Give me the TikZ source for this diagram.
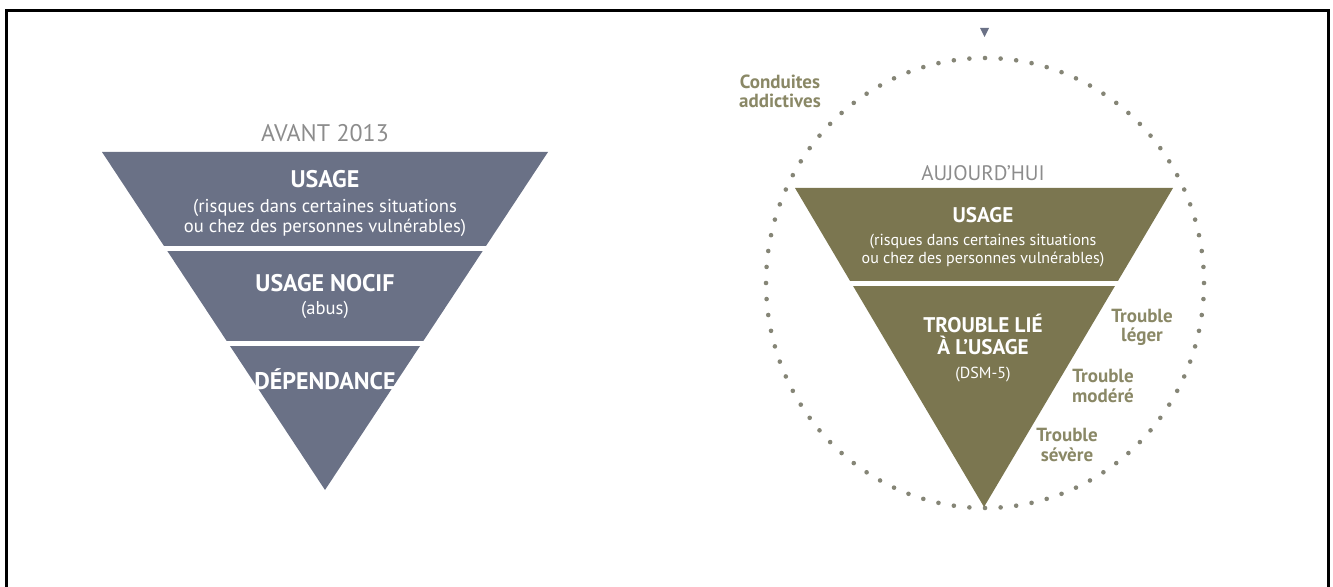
\documentclass[tikz,border=0pt]{standalone}
\usepackage{fontspec}
\setmainfont{PT Sans}
\usetikzlibrary{positioning}
\definecolor{ardoise}{HTML}{6A7186}
\definecolor{kaki}{HTML}{7B7650}
\definecolor{kakiclair}{HTML}{8A8866}
\definecolor{pointille}{HTML}{858576}
\definecolor{gristitre}{HTML}{8C8C8C}

\begin{document}
\begin{tikzpicture}[x=0.5pt,y=-0.5pt,
        every node/.style={inner sep=0pt,align=center},
        titre/.style={text=gristitre,font=\fontsize{10.5}{12}\selectfont},
        tete/.style={text=white,font=\bfseries\fontsize{12}{13}\selectfont},
        detail/.style={text=white,font=\fontsize{9.3}{10}\selectfont},
        teteb/.style={text=white,font=\bfseries\fontsize{10.6}{11}\selectfont},
        detailb/.style={text=white,font=\fontsize{8}{9}\selectfont},
        niveau/.style={text=kakiclair,font=\bfseries\fontsize{9.5}{9.6}\selectfont},
        coupe/.style={white,line width=2.5pt}]
   \useasboundingbox (0,0) rectangle (1333,587);
   \draw[line width=1.5pt] (6,587) -- (6,11) -- (1328,11) -- (1328,587);

   % avant 2013
   \coordinate (ga) at (102,152);
   \coordinate (da) at (548,152);
   \coordinate (pa) at (325,490);
   \fill[ardoise] (ga) -- (da) -- (pa) -- cycle;
   \draw[coupe] (90,249) -- (560,249);
   \draw[coupe] (90,344) -- (560,344);
   \node[titre,font=\fontsize{12}{13}\selectfont] (avant) at (325,133) {AVANT 2013};
   \node[tete] (usageA) at (325,179) {USAGE};
   \node[detail] (risqA) at (325,218) {(risques dans certaines situations\\ou chez des personnes vulnérables)};
   \node[tete] (nocif) at (325,283) {USAGE NOCIF};
   \node[detail] (abus) at (325,310) {(abus)};
   \node[tete] (dep) at (325,379) {DÉPENDANCE};

   % aujourd'hui
   \fill[ardoise] (980,28) -- (989,28) -- (984.5,37) -- cycle;
   \foreach \i in {0,...,87}
      \fill[pointille] ({985+219*cos(4.0909*\i)},{283-225*sin(4.0909*\i)}) circle[radius=2.3];
   \coordinate (gb) at (795,188);
   \coordinate (db) at (1173,188);
   \coordinate (pb) at (984,507);
   \fill[kaki] (gb) -- (db) -- (pb) -- cycle;
   \draw[coupe] (785,284) -- (1185,284);
   \node[titre] (auj) at (983,173) {AUJOURD’HUI};
   \node[teteb] (usageB) at (983,215) {USAGE};
   \node[detailb] (risqB) at (983,251) {(risques dans certaines situations\\ou chez des personnes vulnérables)};
   \node[teteb] (trouble) at (983,334) {TROUBLE LIÉ\\À L’USAGE};
   \node[detailb] (dsm) [below=6pt of trouble] {(DSM-5)};
   \node[niveau] (conduites) at (780,91) {Conduites\\addictives};
   \node[niveau] (leger) at (1142,327) {Trouble\\léger};
   \node[niveau] (modere) at (1103,386) {Trouble\\modéré};
   \node[niveau] (severe) at (1067,445) {Trouble\\sévère};
\end{tikzpicture}
\end{document}
